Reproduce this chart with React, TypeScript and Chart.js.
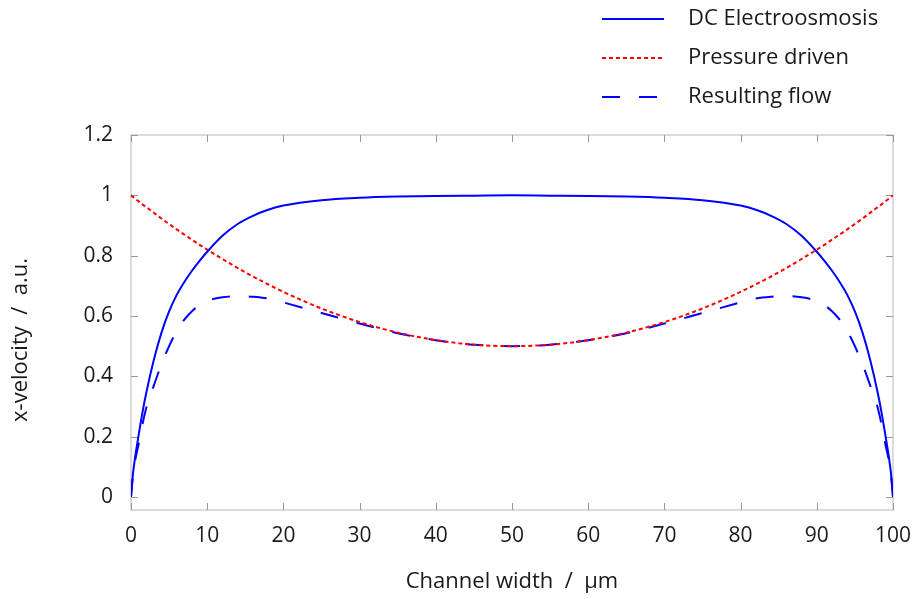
import React, { useEffect, useRef } from "react";
import { Chart, registerables } from "chart.js";

Chart.register(...registerables);

const xValues = [
  0, 0.25, 0.5, 1, 1.5, 2, 3, 4, 5, 6, 7, 8, 9, 10, 12, 14, 16, 18, 20, 25, 30, 35, 40, 45, 50,
  55, 60, 65, 70, 75, 80, 82, 84, 86, 88, 90, 91, 92, 93, 94, 95, 96, 97, 98, 98.5, 99, 99.5, 99.75, 100,
];

const electroosmosis = [
  0, 0.075, 0.125, 0.205, 0.28, 0.345, 0.455, 0.545, 0.615, 0.67, 0.713, 0.75, 0.783, 0.813, 0.866, 0.905, 0.932, 0.952, 0.966, 0.984, 0.992, 0.996, 0.998, 0.999, 1.0,
  0.999, 0.998, 0.996, 0.992, 0.984, 0.966, 0.952, 0.932, 0.905, 0.866, 0.813, 0.783, 0.75, 0.713, 0.67, 0.615, 0.545, 0.455, 0.345, 0.28, 0.205, 0.125, 0.075, 0,
];

const pressureDriven = [
  1.0, 0.995, 0.99, 0.98, 0.97, 0.961, 0.942, 0.923, 0.905, 0.887, 0.87, 0.853, 0.836, 0.82, 0.789, 0.759, 0.731, 0.705, 0.68, 0.625, 0.58, 0.545, 0.52, 0.505, 0.5,
  0.505, 0.52, 0.545, 0.58, 0.625, 0.68, 0.705, 0.731, 0.759, 0.789, 0.82, 0.836, 0.853, 0.87, 0.887, 0.905, 0.923, 0.942, 0.961, 0.97, 0.98, 0.99, 0.995, 1.0,
];

const resultingFlow = [
  0, 0.07, 0.115, 0.175, 0.24, 0.295, 0.37, 0.44, 0.5, 0.55, 0.588, 0.616, 0.636, 0.65, 0.662, 0.666, 0.664, 0.658, 0.645, 0.61, 0.575, 0.543, 0.52, 0.505, 0.5,
  0.505, 0.52, 0.543, 0.575, 0.61, 0.645, 0.658, 0.664, 0.666, 0.662, 0.65, 0.636, 0.616, 0.588, 0.55, 0.5, 0.44, 0.37, 0.295, 0.24, 0.175, 0.115, 0.07, 0,
];

const xTickValues = [0, 10, 20, 30, 40, 50, 60, 70, 80, 90, 100];
const yTickValues = [0, 0.2, 0.4, 0.6, 0.8, 1, 1.2];
const seriesLabels = ["DC Electroosmosis", "Pressure driven", "Resulting flow"];
const xTitle = "Channel width  /  µm";
const yTitle = "x-velocity  /  a.u.";

const FONT = "'Open Sans', sans-serif";
const TEXT_COLOR = "#1a1a1a";

const framePlugin = {
  id: "frame",
  beforeDatasetsDraw(chart: any) {
    const { ctx, chartArea } = chart;
    const { left, right, top, bottom } = chartArea;
    const xs = chart.scales.x;
    const ys = chart.scales.y;
    ctx.save();
    ctx.strokeStyle = "#cfcfcf";
    ctx.lineWidth = 1.5;
    ctx.strokeRect(left, top, right - left, bottom - top);
    ctx.strokeStyle = "#999999";
    ctx.lineWidth = 1;
    const tl = 7;
    ctx.beginPath();
    xTickValues.forEach((v) => {
      const px = Math.round(xs.getPixelForValue(v)) + 0.5;
      ctx.moveTo(px, bottom);
      ctx.lineTo(px, bottom - tl);
      ctx.moveTo(px, top);
      ctx.lineTo(px, top + tl);
    });
    yTickValues.forEach((v) => {
      const py = Math.round(ys.getPixelForValue(v)) + 0.5;
      ctx.moveTo(left, py);
      ctx.lineTo(left + tl, py);
      ctx.moveTo(right, py);
      ctx.lineTo(right - tl, py);
    });
    ctx.stroke();
    ctx.restore();
  },
};

const textPlugin = {
  id: "customText",
  afterDraw(chart: any) {
    const { ctx } = chart;
    const x0 = 602;
    const x1 = 664;
    const tx = 688;
    const rows = [19, 58, 97];
    ctx.save();
    chart.data.datasets.forEach((ds: any, i: number) => {
      const y = rows[i];
      ctx.strokeStyle = ds.borderColor;
      ctx.lineWidth = ds.borderWidth;
      ctx.setLineDash(ds.borderDash || []);
      ctx.beginPath();
      ctx.moveTo(x0, y);
      ctx.lineTo(x1, y);
      ctx.stroke();
      ctx.setLineDash([]);
      ctx.fillStyle = TEXT_COLOR;
      ctx.font = `22px ${FONT}`;
      ctx.textAlign = "left";
      ctx.textBaseline = "middle";
      ctx.fillText(ds.label, tx, y);
    });
    // y-axis title
    ctx.translate(21, 340);
    ctx.rotate(-Math.PI / 2);
    ctx.fillStyle = TEXT_COLOR;
    ctx.font = `22px ${FONT}`;
    ctx.textAlign = "center";
    ctx.textBaseline = "middle";
    ctx.fillText(yTitle, 0, 0);
    ctx.restore();
  },
};

export default function App() {
  const canvasRef = useRef<HTMLCanvasElement | null>(null);

  useEffect(() => {
    const canvas = canvasRef.current;
    if (!canvas) return;
    const mk = (ys: number[]) => xValues.map((x, i) => ({ x, y: ys[i] }));
    const chart = new Chart(canvas, {
      type: "line",
      data: {
        datasets: [
          {
            label: seriesLabels[0],
            data: mk(electroosmosis),
            borderColor: "#0000ff",
            borderWidth: 2,
            pointRadius: 0,
            cubicInterpolationMode: "monotone",
            fill: false,
          },
          {
            label: seriesLabels[1],
            data: mk(pressureDriven),
            borderColor: "#ff0000",
            borderWidth: 2,
            borderDash: [4, 3],
            pointRadius: 0,
            cubicInterpolationMode: "monotone",
            fill: false,
          },
          {
            label: seriesLabels[2],
            data: mk(resultingFlow),
            borderColor: "#0000ff",
            borderWidth: 2,
            borderDash: [18, 19],
            pointRadius: 0,
            cubicInterpolationMode: "monotone",
            fill: false,
          },
        ],
      },
      options: {
        responsive: false,
        animation: false,
        layout: { padding: { top: 135, right: 24, left: 0, bottom: 0 } },
        plugins: {
          legend: { display: false },
          tooltip: { enabled: false },
        },
        scales: {
          x: {
            type: "linear",
            position: "bottom",
            min: 0,
            max: 100,
            grid: { display: false, drawTicks: false },
            border: { display: false },
            afterBuildTicks: (s: any) => {
              s.ticks = xTickValues.map((v) => ({ value: v }));
            },
            afterFit: (s: any) => {
              s.height = 89;
              s.paddingLeft = 0;
              s.paddingRight = 0;
            },
            ticks: {
              padding: 13,
              maxRotation: 0,
              autoSkip: false,
              color: TEXT_COLOR,
              font: { family: FONT, size: 21 },
              callback: (v: any) => String(v),
            },
            title: {
              display: true,
              text: xTitle,
              color: TEXT_COLOR,
              font: { family: FONT, size: 22 },
              padding: { top: 0, bottom: 4 },
            },
          },
          y: {
            type: "linear",
            min: -0.043,
            max: 1.2,
            grid: { display: false, drawTicks: false },
            border: { display: false },
            afterBuildTicks: (s: any) => {
              s.ticks = yTickValues.map((v) => ({ value: v }));
            },
            afterFit: (s: any) => {
              s.width = 131;
              s.paddingTop = 0;
              s.paddingBottom = 0;
            },
            ticks: {
              padding: 18,
              autoSkip: false,
              color: TEXT_COLOR,
              font: { family: FONT, size: 21 },
              callback: (v: any) => String(v),
            },
          },
        },
      },
      plugins: [framePlugin, textPlugin],
    } as any);
    return () => chart.destroy();
  }, []);

  return (
    <div style={{ position: "fixed", left: 0, top: 0, width: 917, height: 599, background: "#fff" }}>
      <canvas ref={canvasRef} width={917} height={599} style={{ display: "block" }} />
    </div>
  );
}
